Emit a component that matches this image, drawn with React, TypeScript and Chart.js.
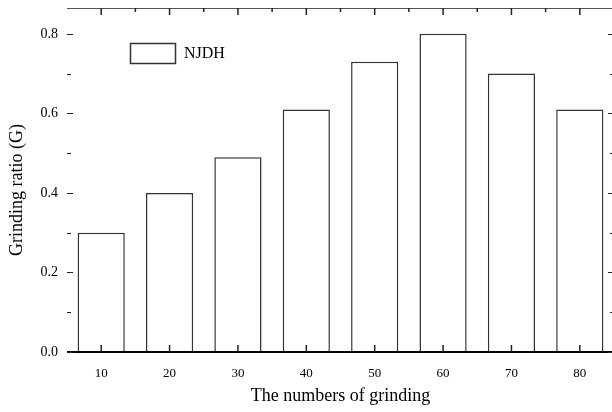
import React, { useEffect, useRef } from "react";
import { Chart, registerables } from "chart.js";

Chart.register(...registerables);

const categories = ["10", "20", "30", "40", "50", "60", "70", "80"];
const grindingRatio = [0.30, 0.40, 0.49, 0.61, 0.73, 0.80, 0.70, 0.61];
const seriesLabel = "NJDH";
const yTickValues = [0, 0.1, 0.2, 0.3, 0.4, 0.5, 0.6, 0.7, 0.8];
const xTitle = "The numbers of grinding";
const yTitle = "Grinding ratio (G)";

const FONT = '"Liberation Serif", "Times New Roman", serif';

const framePlugin = {
  id: "frame",
  afterDraw(chart: any) {
    const { ctx, chartArea } = chart;
    const { left, right, top, bottom } = chartArea;
    const xs = chart.scales.x;
    const ys = chart.scales.y;
    ctx.save();
    // top border
    ctx.strokeStyle = "#555";
    ctx.lineWidth = 1;
    ctx.beginPath();
    ctx.moveTo(left, top + 0.5);
    ctx.lineTo(right, top + 0.5);
    ctx.stroke();
    // bottom axis
    ctx.strokeStyle = "#000";
    ctx.lineWidth = 2;
    ctx.beginPath();
    ctx.moveTo(left, bottom);
    ctx.lineTo(right, bottom);
    ctx.stroke();
    // y ticks (left & right, inward)
    ctx.lineWidth = 1;
    ctx.strokeStyle = "#222";
    yTickValues.forEach((v, i) => {
      const y = Math.round(ys.getPixelForValue(v)) + 0.5;
      const len = i % 2 === 0 ? 6 : 4;
      ctx.beginPath();
      ctx.moveTo(left, y);
      ctx.lineTo(left + len, y);
      ctx.moveTo(right - len, y);
      ctx.lineTo(right, y);
      ctx.stroke();
    });
    // x ticks
    ctx.lineWidth = 1.5;
    categories.forEach((_, i) => {
      const x = xs.getPixelForValue(i);
      ctx.beginPath();
      ctx.moveTo(x, bottom);
      ctx.lineTo(x, bottom - 7);
      ctx.moveTo(x, top);
      ctx.lineTo(x, top + 7);
      ctx.stroke();
      const xb = xs.getPixelForValue(i + 0.5);
      if (i < categories.length - 1) {
        ctx.beginPath();
        ctx.moveTo(xb, top);
        ctx.lineTo(xb, top + 4);
        ctx.stroke();
      }
    });
    // legend
    ctx.strokeStyle = "#333";
    ctx.lineWidth = 1.5;
    ctx.strokeRect(130.5, 43.5, 45, 20);
    ctx.fillStyle = "#000";
    ctx.font = `16px ${FONT}`;
    ctx.textAlign = "left";
    ctx.textBaseline = "middle";
    ctx.fillText(chart.data.datasets[0].label, 184, 54);
    // axis titles
    ctx.font = `18px ${FONT}`;
    ctx.textAlign = "center";
    ctx.textBaseline = "middle";
    ctx.fillText(xTitle, (left + right) / 2, 396);
    ctx.save();
    ctx.translate(17, 190);
    ctx.rotate(-Math.PI / 2);
    ctx.fillText(yTitle, 0, 0);
    ctx.restore();
    ctx.restore();
  },
};

export default function App() {
  const ref = useRef<HTMLCanvasElement>(null);
  useEffect(() => {
    document.body.style.margin = "0";
    document.body.style.overflow = "hidden";
    const chart = new Chart(ref.current!, {
      type: "bar",
      data: {
        labels: categories,
        datasets: [
          {
            label: seriesLabel,
            data: grindingRatio,
            backgroundColor: "#ffffff",
            borderColor: "#333333",
            borderWidth: 1.5,
            barPercentage: 0.69,
            categoryPercentage: 1,
          },
        ],
      },
      options: {
        responsive: false,
        animation: false,
        layout: { padding: { top: 8, right: 6, left: 0, bottom: 0 } },
        plugins: { legend: { display: false }, tooltip: { enabled: false } },
        scales: {
          x: {
            grid: { display: false },
            border: { display: false },
            ticks: { color: "#000", font: { family: FONT, size: 13 }, padding: 6 },
            afterFit: (s: any) => {
              s.height = 60;
              s.paddingLeft = 0;
              s.paddingRight = 0;
            },
          },
          y: {
            min: 0,
            max: 0.865,
            grid: { display: false },
            border: { display: false },
            ticks: {
              stepSize: 0.1,
              includeBounds: false,
              color: "#000",
              padding: 1,
              font: { family: FONT, size: 14 },
              callback: (v: any) => (Math.round(Number(v) * 10) % 2 === 0 ? Number(v).toFixed(1) : ""),
            },
            afterFit: (s: any) => {
              s.width = 67;
              s.paddingTop = 0;
              s.paddingBottom = 0;
            },
          },
        },
      },
      plugins: [framePlugin],
    });
    return () => chart.destroy();
  }, []);
  return (
    <div style={{ position: "fixed", left: 0, top: 0, width: 620, height: 412 }}>
      <canvas ref={ref} width={620} height={412} />
    </div>
  );
}
